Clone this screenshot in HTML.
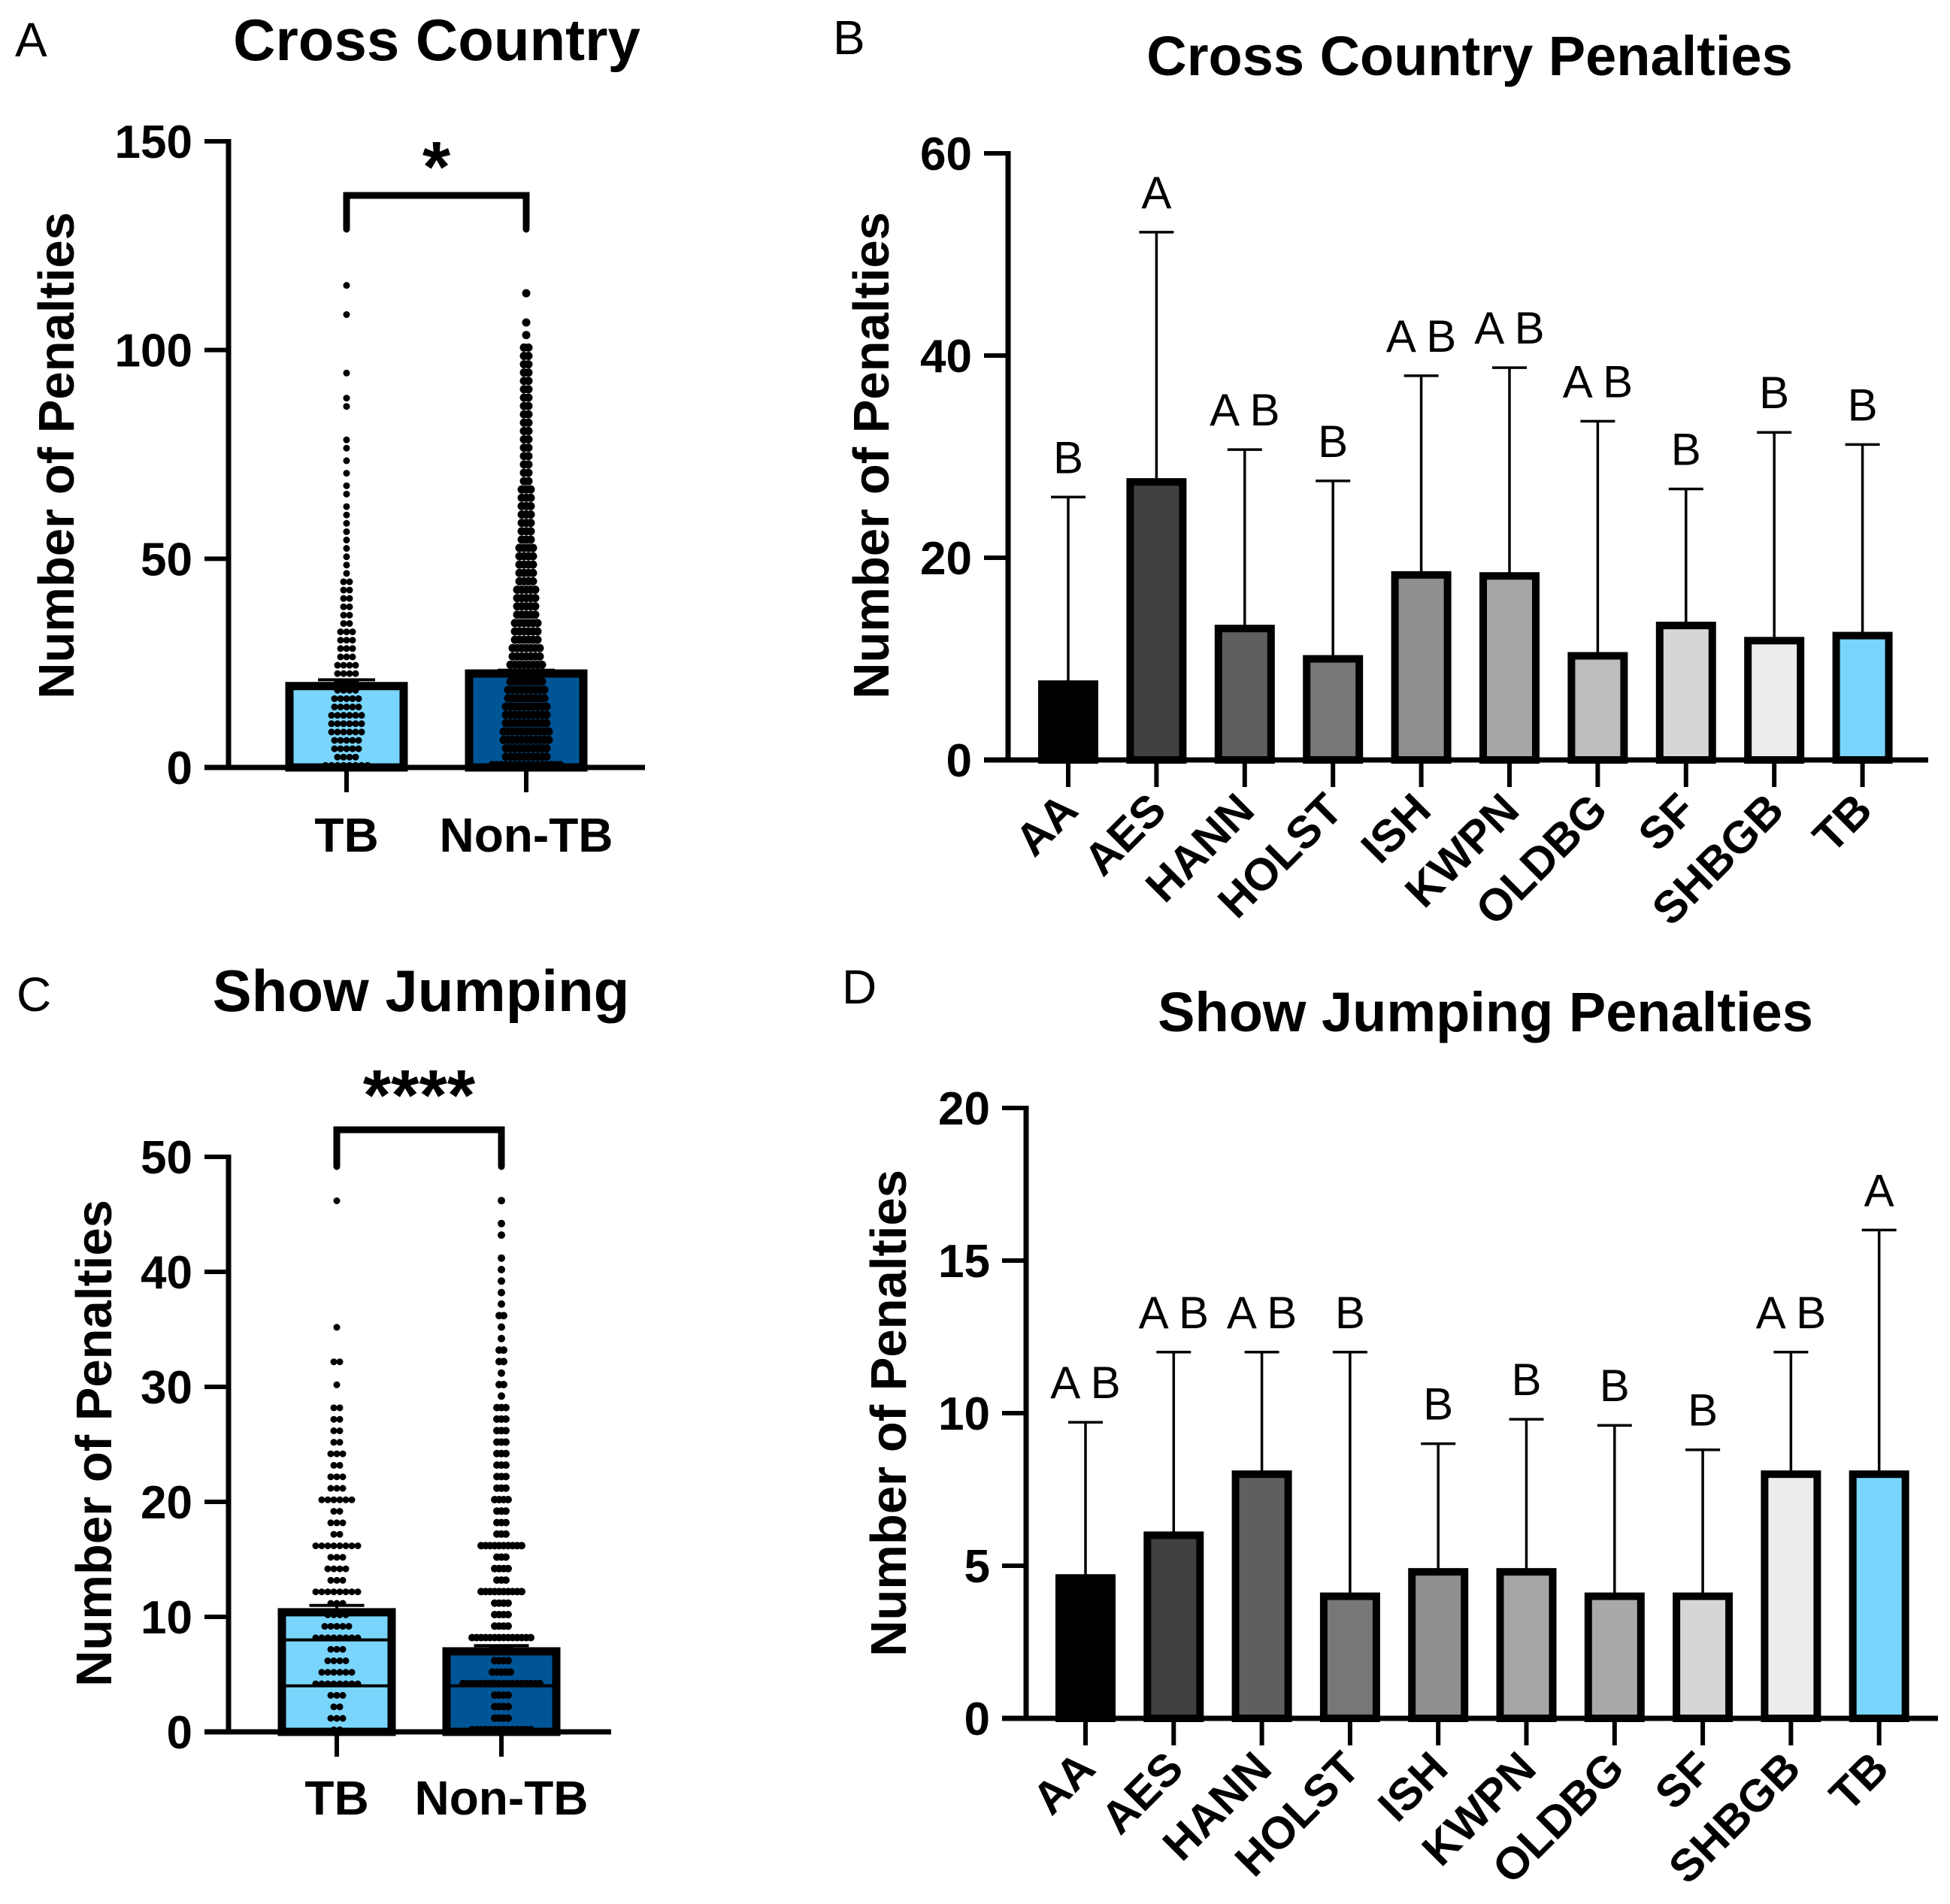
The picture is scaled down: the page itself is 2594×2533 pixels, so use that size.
<!DOCTYPE html>
<html><head><meta charset="utf-8"><style>
html,body{margin:0;padding:0;background:#fff}
svg{display:block;font-family:"Liberation Sans",Arial,sans-serif}
</style></head><body>
<svg id="fig" width="2594" height="2533" viewBox="0 0 2594 2533">
<g id="root"></g>
</svg>
<script>
// ---- data: panel A (Cross Country TB vs Non-TB)
const aCats = ["TB","Non-TB"];
const aMeans = [19.5, 22.5];
const aErr = [21, 23.3];
const aTicks = [0,50,100,150];
const aTbVals = [115,108,94,88,86,78,76,73,70,67,65,62,60,58,56,54,52,50,48,46,44,42,40,38,36,34,32,30,28,26,24,22,20,18,16,14,12,10,8,6,4,2,0];
const aTbCnt  = [1,1,1,1,1,1,1,1,1,1,1,1,1,1,1,1,1,1,1,1,2,2,2,2,2,2,3,3,3,3,4,4,4,4,5,5,6,6,6,5,5,4,8];
const aNtVals = [113,106,103,100,98,96,94,92,90,88,86,84,82,80,78,76,74,72,70,68,66,64,62,60,58,56,54,52,50,48,46,44,42,40,38,36,34,32,30,28,26,24,22,20,18,16,14,12,10,8,6,4,2,0];
const aNtCnt  = [1,1,1,2,2,2,2,2,2,2,2,2,2,2,2,2,2,2,2,2,3,3,3,3,3,3,3,4,4,4,4,4,5,5,5,5,6,6,6,7,7,8,8,8,9,9,10,10,10,11,11,10,10,16];
// ---- panel B (Cross Country breeds)
const bCats = ["AA","AES","HANN","HOLST","ISH","KWPN","OLDBG","SF","SHBGB","TB"];
const bMeans = [7.5,27.5,13,10,18.3,18.2,10.3,13.3,11.8,12.3];
const bErr = [26,52.2,30.7,27.6,38,38.8,33.5,26.8,32.4,31.2];
const bLetters = ["B","A","A B","B","A B","A B","A B","B","B","B"];
const bColors = ["#000000","#404040","#5f5f5f","#777777","#8f8f8f","#a6a6a6","#bdbdbd","#d6d6d6","#ececec","#79d5fb"];
const bTicks = [0,20,40,60];
// ---- panel C (Show Jumping TB vs Non-TB)
const cCats = ["TB","Non-TB"];
const cMeans = [10.4, 7];
const cErr = [11, 7.5];
const cTicks = [0,10,20,30,40,50];
const cTbVals = [46,35,32,30,28,27,26,25,24,23,22,21,20,19,18,17,16,15,14,13,12,11,10,9,8,7,6,5,4,3,2,1,0];
const cTbCnt  = [1,1,2,1,2,2,2,2,3,2,3,3,6,2,3,2,8,3,4,3,8,3,4,5,8,3,4,6,8,3,2,3,2];
const cNtVals = [46,44,43,41,40,39,38,37,36,35,34,33,32,31,30,29,28,27,26,25,24,23,22,21,20,19,18,17,16,15,14,13,12,11,10,9,8,7,6,5,4,3,2,1,0];
const cNtCnt  = [1,1,1,1,1,1,1,1,2,1,1,2,2,1,2,1,3,3,3,3,3,3,3,3,4,3,3,3,10,3,4,3,10,4,4,4,14,5,4,5,18,4,4,4,14];
// ---- panel D (Show Jumping breeds)
const dCats = ["AA","AES","HANN","HOLST","ISH","KWPN","OLDBG","SF","SHBGB","TB"];
const dMeans = [4.6,6,8,4,4.8,4.8,4,4,8,8];
const dErr = [9.7,12,12,12,9,9.8,9.6,8.8,12,16];
const dLetters = ["A B","A B","A B","B","B","B","B","B","A B","A"];
const dColors = ["#000000","#404040","#5f5f5f","#777777","#8f8f8f","#a6a6a6","#a9a9a9","#d6d6d6","#ececec","#79d5fb"];
const dTicks = [0,5,10,15,20];

const NS="http://www.w3.org/2000/svg";
const root=document.getElementById('root');
function mk(tag,attrs,parent,text){const e=document.createElementNS(NS,tag);for(const k in attrs)e.setAttribute(k,attrs[k]);if(text!==undefined)e.textContent=text;(parent||root).appendChild(e);return e;}

function axes(g,ax,y0,yTop,xEnd,maxV,ticks,yscale){
  for(const t of ticks){
    const y=yscale(t);
    const tk=mk('line',{x1:ax-32,x2:ax,y1:y,y2:y,stroke:'#000','stroke-width':6},g);
    
    
    const tl=mk('text',{x:ax-48,y:y+22,'text-anchor':'end','font-size':62,'font-weight':'bold'},g,String(t));
    
    
  }
  const ya=mk('line',{x1:ax,x2:ax,y1:yTop-3,y2:y0+3,stroke:'#000','stroke-width':7},g);
  
  
  const xa=mk('line',{x1:ax-32,x2:xEnd,y1:y0,y2:y0,stroke:'#000','stroke-width':7},g);
  
  
}
function text(g,x,y,s,size,weight,name,anchor,rot){
  const a={x:x,y:y,'font-size':size,'font-weight':weight,'text-anchor':anchor||'middle'};
  if(rot)a.transform=rot;
  const t=mk('text',a,g,s);
  
  
  return t;
}
function dots(g,cx,vals,cnt,yscale,sp,r){
  vals.forEach((v,i)=>{
    const n=cnt[i];
    for(let j=0;j<n;j++){
      const c=mk('circle',{cx:cx+(j-(n-1)/2)*sp,cy:yscale(v)-r*0.6,r:r,fill:'#000'},g);
      
      
    }
  });
}
function errbar(g,cx,yTopE,yMean,cap,w){
  const l=mk('line',{x1:cx,x2:cx,y1:yTopE,y2:yMean,stroke:'#000','stroke-width':w},g);
  
  
  const c=mk('line',{x1:cx-cap,x2:cx+cap,y1:yTopE,y2:yTopE,stroke:'#000','stroke-width':w},g);
  
  
}
function twoGroup(cfg){
  const g=mk('g',{});
  
  
  const ys=v=>cfg.y0-(cfg.y0-cfg.yTop)*v/cfg.max;
  text(g,cfg.labX,cfg.labY,cfg.label,64,'normal','panel-label','start');
  text(g,cfg.titleX,cfg.titleY,cfg.title,78,'bold','chart-title');
  text(g,cfg.ytX,cfg.ytY,'Number of Penalties',67,'bold','y-axis-title','middle','rotate(-90 '+cfg.ytX+' '+cfg.ytY+')');
  const fills=['#79d5fb','#005596'];
  cfg.cats.forEach((c,i)=>{
    const cx=cfg.cx[i];
    const y=ys(cfg.means[i]);
    const b=mk('rect',{x:cx-cfg.hw,y:y,width:2*cfg.hw,height:cfg.y0-y,fill:fills[i],stroke:'#000','stroke-width':11},g);
    
    
    errbar(g,cx,ys(cfg.err[i]),y,cfg.hw*0.5,4);
    const t=mk('line',{x1:cx,x2:cx,y1:cfg.y0,y2:cfg.y0+33,stroke:'#000','stroke-width':6},g);
    
    
    text(g,cx,cfg.y0+cfg.catDy,c,64,'bold','x-tick-label');
  });
  if(cfg.lines){cfg.lines.forEach(([i,v,hw])=>{
    const l=mk('line',{x1:cfg.cx[i]-hw,x2:cfg.cx[i]+hw,y1:ys(v),y2:ys(v),stroke:'#000','stroke-width':4},g);
    
    
  });}
  dots(g,cfg.cx[0],cfg.d0v,cfg.d0c,ys,8,4.5);
  dots(g,cfg.cx[1],cfg.d1v,cfg.d1c,ys,6,cfg.r1);
  axes(g,cfg.ax,cfg.y0,cfg.yTop,cfg.xEnd,cfg.max,cfg.ticks,ys);
  const br=mk('path',{d:`M${cfg.cx[0]} ${cfg.brB} V${cfg.brY} H${cfg.cx[1]} V${cfg.brB}`,fill:'none',stroke:'#000','stroke-width':9,'stroke-linecap':'round'},g);
  
  
  text(g,(cfg.cx[0]+cfg.cx[1])/2,cfg.starY,cfg.stars,96,'bold','significance-stars');
}
function breeds(cfg){
  const g=mk('g',{});
  
  
  const ys=v=>cfg.y0-(cfg.y0-cfg.yTop)*v/cfg.max;
  text(g,cfg.labX,cfg.labY,cfg.label,64,'normal','panel-label','start');
  text(g,cfg.titleX,cfg.titleY,cfg.title,74,'bold','chart-title');
  text(g,cfg.ytX,cfg.ytY,'Number of Penalties',67,'bold','y-axis-title','middle','rotate(-90 '+cfg.ytX+' '+cfg.ytY+')');
  cfg.cats.forEach((c,i)=>{
    const cx=cfg.x0+i*cfg.step;
    const y=ys(cfg.means[i]);
    errbar(g,cx,ys(cfg.err[i]),y,23,3.5);
    const b=mk('rect',{x:cx-35,y:y,width:70,height:cfg.y0-y,fill:cfg.colors[i],stroke:'#000','stroke-width':10},g);
    
    
    const t=mk('line',{x1:cx,x2:cx,y1:cfg.y0,y2:cfg.y0+36,stroke:'#000','stroke-width':6},g);
    
    
    text(g,cx+16,cfg.y0+70,c,60,'bold','x-tick-label','end','rotate(-45 '+(cx+16)+' '+(cfg.y0+70)+')');
    const lt=text(g,cx,ys(cfg.err[i])-32,cfg.letters[i],60,'normal','group-letter');
    lt.setAttribute('xml:space','preserve');
  });
  axes(g,cfg.ax,cfg.y0,cfg.yTop,cfg.xEnd,cfg.max,cfg.ticks,ys);
}
twoGroup({name:'panel-a-cross-country',label:'A',labX:20,labY:75,title:'Cross Country',titleX:581,titleY:80,ytX:98,ytY:606,
  cats:aCats,means:aMeans,err:aErr,cx:[461,700],hw:76,ax:304,y0:1021,yTop:188,xEnd:858,max:150,ticks:aTicks,catDy:112,r1:5.5,
  d0v:aTbVals,d0c:aTbCnt,d1v:aNtVals,d1c:aNtCnt,brY:260,brB:305,starY:255,stars:'*'});
twoGroup({name:'panel-c-show-jumping',label:'C',labX:22,labY:1345,title:'Show Jumping',titleX:560,titleY:1345,ytX:148,ytY:1920,
  cats:cCats,means:cMeans,err:cErr,cx:[448,667],hw:73,ax:304,y0:2304,yTop:1539,xEnd:813,max:50,ticks:cTicks,catDy:110,r1:5,
  d0v:cTbVals,d0c:cTbCnt,d1v:cNtVals,d1c:cNtCnt,brY:1503,brB:1552,starY:1490,stars:'****',
  lines:[[0,8,73],[0,4,73],[1,4,73]]});
breeds({name:'panel-b-cross-country-penalties',label:'B',labX:1108,labY:72,title:'Cross Country Penalties',titleX:1955,titleY:100,ytX:1182,ytY:606,
  cats:bCats,means:bMeans,err:bErr,letters:bLetters,colors:bColors,ticks:bTicks,max:60,ax:1341,y0:1011,yTop:204,xEnd:2565,x0:1421,step:117.4});
breeds({name:'panel-d-show-jumping-penalties',label:'D',labX:1120,labY:1335,title:'Show Jumping Penalties',titleX:1976,titleY:1372,ytX:1205,ytY:1880,
  cats:dCats,means:dMeans,err:dErr,letters:dLetters,colors:dColors,ticks:dTicks,max:20,ax:1365,y0:2286,yTop:1474,xEnd:2578,x0:1444,step:117.3});
</script>
</body></html>
